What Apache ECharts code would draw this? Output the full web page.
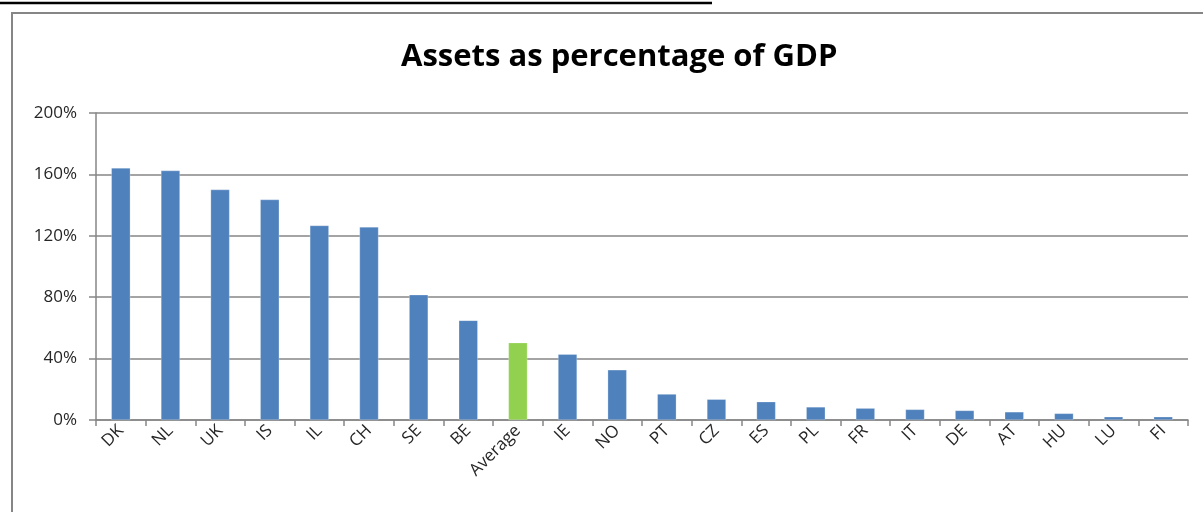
<!DOCTYPE html>
<html>
<head>
<meta charset="utf-8">
<script src="https://cdn.jsdelivr.net/npm/echarts@6/dist/echarts.min.js"></script>
<style>
html,body{margin:0;padding:0;background:#fff;}
#chart{width:1203px;height:512px;}
</style>
</head>
<body>
<div id="chart"></div>
<script>
const titleText = 'Assets as percentage of GDP';
const categories = ['DK','NL','UK','IS','IL','CH','SE','BE','Average','IE','NO','PT','CZ','ES','PL','FR','IT','DE','AT','HU','LU','FI'];
const assetsPct = [164.2,162.5,150.1,143.6,126.7,125.8,81.6,64.9,50.4,42.9,32.7,16.9,13.5,11.9,8.5,7.7,6.9,6.2,5.3,4.3,2.1,2.1];
const yTicks = [0,40,80,120,160,200];
const highlightCategory = 'Average';

const BLUE = '#4F81BD', GREEN = '#92D050', GREY = '#868686', TXT = '#262626';

const chart = echarts.init(document.getElementById('chart'), null, {renderer:'canvas'});
chart.setOption({
  animation:false,
  backgroundColor:'#fff',
  title:{
    text:titleText, left:396, top:37,
    textStyle:{fontFamily:'Open Sans', fontWeight:'bold', fontSize:31, color:'#000'}
  },
  grid:{left:96, right:15, top:113, bottom:92, containLabel:false},
  xAxis:{
    type:'category', data:categories, boundaryGap:true,
    axisLine:{lineStyle:{color:GREY, width:1.5}},
    axisTick:{show:true, length:6, interval:0, lineStyle:{color:GREY, width:1.5}},
    axisLabel:{interval:0, rotate:45, margin:8, fontFamily:'Open Sans', fontSize:17, color:TXT}
  },
  yAxis:{
    type:'value', min:yTicks[0], max:yTicks[yTicks.length-1], interval:yTicks[1]-yTicks[0],
    axisLine:{show:true, lineStyle:{color:GREY, width:1.5}},
    axisTick:{show:true, length:7, lineStyle:{color:GREY, width:1.5}},
    axisLabel:{formatter:'{value}%', margin:19, fontFamily:'Open Sans', fontSize:17, color:TXT},
    splitLine:{show:true, lineStyle:{color:GREY, width:1.5}}
  },
  series:[{
    type:'bar', barWidth:19,
    data:assetsPct.map((v,i)=>({value:v, itemStyle:{color: categories[i]===highlightCategory ? GREEN : BLUE}})),
    itemStyle:{borderColor:'rgba(255,255,255,0.5)', borderWidth:0.5}
  }],
  graphic:[
    {type:'rect', shape:{x:12, y:13, width:1200, height:520}, style:{fill:'none', stroke:GREY, lineWidth:2}, silent:true, z:-1},
    {type:'line', shape:{x1:0, y1:3, x2:712, y2:3}, style:{stroke:'#000', lineWidth:2.5}, silent:true}
  ]
});
</script>
</body>
</html>
